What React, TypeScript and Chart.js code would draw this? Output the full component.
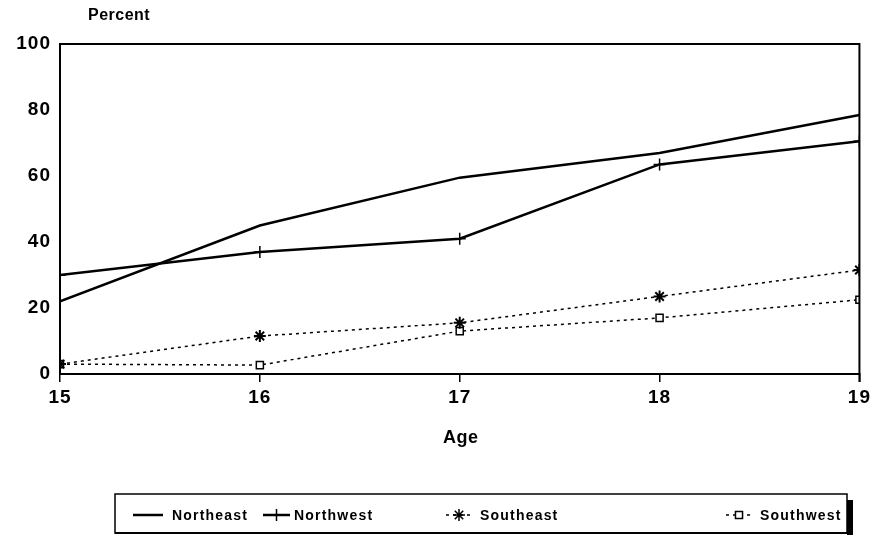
import React, { useEffect, useRef } from 'react';
import { Chart, registerables } from 'chart.js';
import { drawPoint } from 'chart.js/helpers';

Chart.register(...registerables);

const ages = [15, 16, 17, 18, 19];
const northeast = [22, 45, 59.5, 67, 78.5];
const northwest = [30, 37, 41, 63.5, 70.5];
const southeast = [3, 11.5, 15.5, 23.5, 31.5];
const southwest = [3, 2.7, 13, 17, 22.5];
const seriesNames = ['Northeast', 'Northwest', 'Southeast', 'Southwest'];
const yTitle = 'Percent';
const xTitle = 'Age';

const FONT = '"Liberation Sans", Arial, sans-serif';

const spacingPlugin = {
  id: 'spacing',
  beforeDraw(chart: any) {
    (chart.ctx as any).letterSpacing = '1px';
  },
};

const framePlugin = {
  id: 'frameAndLegend',
  afterDraw(chart: any) {
    const ctx = chart.ctx as CanvasRenderingContext2D;
    const { left, right, top, bottom } = chart.chartArea;
    ctx.save();
    ctx.strokeStyle = '#000';
    ctx.lineWidth = 2;
    ctx.beginPath();
    ctx.moveTo(left, top);
    ctx.lineTo(right, top);
    ctx.lineTo(right, bottom + 8);
    ctx.stroke();

    ctx.fillStyle = '#000';
    (ctx as any).letterSpacing = '0.5px';
    ctx.font = `bold 16px ${FONT}`;
    ctx.textAlign = 'left';
    ctx.textBaseline = 'alphabetic';
    ctx.fillText(yTitle, 88, 20);
    ctx.font = `bold 18px ${FONT}`;
    ctx.textAlign = 'center';
    ctx.textBaseline = 'middle';
    ctx.fillText(xTitle, (left + right) / 2 + 1, 438);

    const bx = 115, by = 494, bw = 732, bh = 39;
    ctx.fillStyle = '#000';
    ctx.fillRect(bx + bw, by + 6, 6, bh - 4);
    ctx.lineWidth = 1.5;
    ctx.strokeRect(bx, by, bw, bh);
    ctx.lineWidth = 2;
    ctx.beginPath();
    ctx.moveTo(bx, by + bh);
    ctx.lineTo(bx + bw + 6, by + bh);
    ctx.stroke();

    const ly = by + 21;
    const items = [
      { x1: 133, x2: 163, tx: 172 },
      { x1: 263, x2: 290, tx: 294 },
      { x1: 446, x2: 472, tx: 480 },
      { x1: 726, x2: 752, tx: 760 },
    ];
    items.forEach((it, i) => {
      const ds = chart.data.datasets[i];
      ctx.save();
      ctx.strokeStyle = '#000';
      ctx.lineWidth = ds.borderWidth;
      ctx.setLineDash(ds.borderDash || []);
      ctx.beginPath();
      ctx.moveTo(it.x1, ly);
      ctx.lineTo(it.x2, ly);
      ctx.stroke();
      ctx.restore();
      if (ds.pointStyle && ds.pointRadius > 0) {
        ctx.save();
        ctx.strokeStyle = '#000';
        ctx.fillStyle = '#fff';
        ctx.lineWidth = 1.5;
        drawPoint(ctx, { pointStyle: ds.pointStyle, radius: ds.pointRadius, rotation: 0, borderWidth: 1.5 } as any, (it.x1 + it.x2) / 2, ly);
        ctx.restore();
      }
      ctx.fillStyle = '#000';
      ctx.font = `bold 14px ${FONT}`;
      (ctx as any).letterSpacing = '1.2px';
      ctx.textAlign = 'left';
      ctx.textBaseline = 'middle';
      ctx.fillText(seriesNames[i], it.tx, ly + 1);
    });
    ctx.restore();
  },
};

export default function App() {
  const ref = useRef<HTMLCanvasElement | null>(null);
  useEffect(() => {
    if (!ref.current) return;
    const mk = (vals: number[]) => ages.map((a, i) => ({ x: a, y: vals[i] }));
    const chart = new Chart(ref.current, {
      type: 'line',
      data: {
        datasets: [
          { label: seriesNames[0], data: mk(northeast), borderColor: '#000', backgroundColor: '#000', borderWidth: 2.5, pointRadius: 0, pointStyle: false as any },
          { label: seriesNames[1], data: mk(northwest), borderColor: '#000', backgroundColor: '#fff', borderWidth: 2.5, pointRadius: 6, pointStyle: 'cross', pointBorderWidth: 1.5 },
          { label: seriesNames[2], data: mk(southeast), borderColor: '#000', backgroundColor: '#000', borderWidth: 1.5, borderDash: [3, 4], pointRadius: 6, pointStyle: 'star', pointBorderWidth: 2 },
          { label: seriesNames[3], data: mk(southwest), borderColor: '#000', backgroundColor: '#fff', borderWidth: 1.5, borderDash: [3, 4], pointRadius: 5, pointStyle: 'rect', pointBorderWidth: 1.5 },
        ],
      },
      options: {
        animation: false,
        responsive: false,
        layout: { padding: { top: 44, right: 13, left: 0, bottom: 0 } },
        plugins: { legend: { display: false }, tooltip: { enabled: false } },
        scales: {
          x: {
            type: 'linear',
            min: 15,
            max: 19,
            afterFit: (s: any) => { s.height = 552 - 374; },
            afterBuildTicks: (s: any) => { s.ticks = ages.map((v) => ({ value: v })); },
            grid: { display: true, drawOnChartArea: false, drawTicks: true, tickLength: 8, color: '#000', lineWidth: 1.5 },
            border: { display: true, color: '#000', width: 2 },
            ticks: { color: '#000', font: { family: FONT, size: 19, weight: 'bold' }, padding: 4, maxRotation: 0 },
          },
          y: {
            min: 0,
            max: 100,
            afterFit: (s: any) => { s.width = 60; },
            grid: { display: false, drawTicks: false },
            border: { display: true, color: '#000', width: 2 },
            ticks: { stepSize: 20, color: '#000', font: { family: FONT, size: 19, weight: 'bold' }, padding: 9 },
          },
        },
      },
      plugins: [spacingPlugin, framePlugin],
    });
    return () => chart.destroy();
  }, []);
  return (
    <div style={{ position: 'absolute', left: 0, top: 0, width: 874, height: 552, background: '#fff' }}>
      <canvas ref={ref} width={874} height={552} style={{ width: 874, height: 552 }} />
    </div>
  );
}
